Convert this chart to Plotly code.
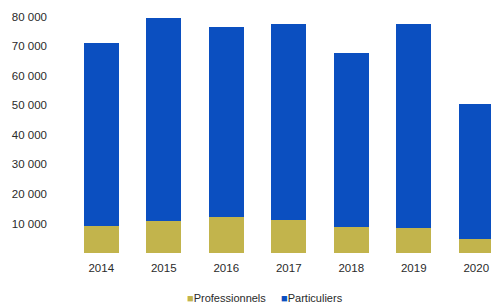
import plotly.graph_objects as go

years = ["2014", "2015", "2016", "2017", "2018", "2019", "2020"]
professionnels = [9100, 10800, 12200, 11100, 8800, 8400, 4600]
particuliers = [61900, 68800, 64500, 66300, 59100, 69000, 46000]
y_tickvals = [10000, 20000, 30000, 40000, 50000, 60000, 70000, 80000]
y_ticktext = ["10 000", "20 000", "30 000", "40 000", "50 000", "60 000", "70 000", "80 000"]
series_names = ["Professionnels", "Particuliers"]

blue = "#0b4fc0"
olive = "#c2b44c"

fig = go.Figure()
fig.add_trace(go.Bar(x=years, y=professionnels, name=series_names[0],
                     marker=dict(color=olive, line=dict(width=0)), width=0.56))
fig.add_trace(go.Bar(x=years, y=particuliers, name=series_names[1],
                     marker=dict(color=blue, line=dict(width=0)), width=0.56))

legend_text = (f"<span style='color:{olive}'>■</span>{series_names[0]}"
               f"&nbsp;&nbsp;&nbsp;&nbsp;&nbsp;"
               f"<span style='color:{blue}'>■</span>{series_names[1]}")

fig.update_layout(
    width=491, height=304,
    barmode="stack",
    plot_bgcolor="white", paper_bgcolor="white",
    margin=dict(l=70, r=0, t=2, b=51, autoexpand=False),
    font=dict(family="Liberation Sans", size=11.5, color="#2a2a2a"),
    showlegend=False,
    annotations=[dict(text=legend_text, xref="paper", yref="paper",
                      x=0.463, y=-0.179, xanchor="center", yanchor="middle",
                      showarrow=False, font=dict(size=11, color="#2a2a2a"))],
)
fig.update_xaxes(type="category", range=[-0.5, 6.236], showgrid=False,
                 showline=False, zeroline=False, ticks="", ticklabelstandoff=6,
                 tickfont=dict(size=11.5), automargin=False)
fig.update_yaxes(range=[0, 85000], showgrid=False, showline=False, zeroline=False,
                 tickvals=y_tickvals, ticktext=y_ticktext, ticks="",
                 ticklabelstandoff=22, tickfont=dict(size=11.5), automargin=False)

fig.write_html("out.html", config={"displayModeBar": False},
               post_script="document.body.style.margin='0';document.body.style.overflow='hidden';")
